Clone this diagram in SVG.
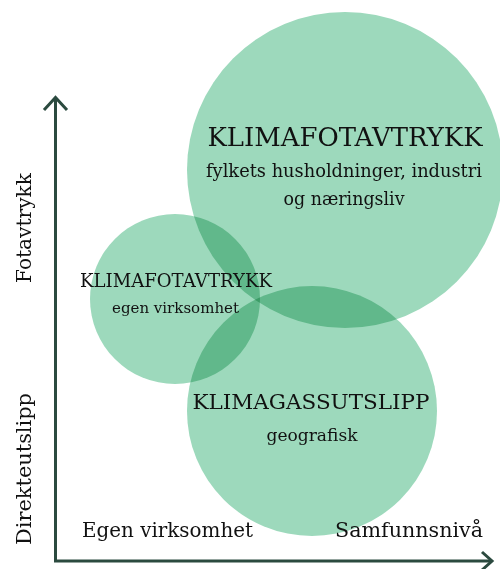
<svg xmlns="http://www.w3.org/2000/svg" width="500" height="569" viewBox="0 0 500 569">
<style>
.c{fill:#9dd9bc;mix-blend-mode:multiply}
.t{font-family:"DejaVu Serif","Liberation Serif",serif;fill:#111111;text-anchor:middle}
.ax{stroke:#2b4a3f;stroke-width:3;fill:none}
</style>
<rect width="500" height="569" fill="#ffffff"/>
<g id="node-fylke">
<circle class="c" cx="345" cy="170" r="158"/>
</g>
<g id="node-egen">
<circle class="c" cx="175" cy="299" r="85"/>
</g>
<g id="node-geo">
<circle class="c" cx="312" cy="411" r="125"/>
</g>
<g id="labels-fylke">
<text class="t" x="345" y="146" font-size="26" textLength="275" lengthAdjust="spacingAndGlyphs">KLIMAFOTAVTRYKK</text>
<text class="t" x="344" y="177" font-size="18" textLength="276" lengthAdjust="spacingAndGlyphs">fylkets husholdninger, industri</text>
<text class="t" x="344" y="205" font-size="18" textLength="121" lengthAdjust="spacingAndGlyphs">og næringsliv</text>
</g>
<g id="labels-egen">
<text class="t" x="176" y="287" font-size="19" textLength="192" lengthAdjust="spacingAndGlyphs">KLIMAFOTAVTRYKK</text>
<text class="t" x="175.5" y="313" font-size="15" textLength="127" lengthAdjust="spacingAndGlyphs">egen virksomhet</text>
</g>
<g id="labels-geo">
<text class="t" x="311" y="409" font-size="21" textLength="237" lengthAdjust="spacingAndGlyphs">KLIMAGASSUTSLIPP</text>
<text class="t" x="312" y="441" font-size="17" textLength="91" lengthAdjust="spacingAndGlyphs">geografisk</text>
</g>
<g id="connectors">
<path class="ax" d="M55.5 561 V98"/>
<path class="ax" d="M44 110 L55.5 97.5 L67 110"/>
<path class="ax" d="M54 561 H492"/>
<path class="ax" d="M482 552 L492 561 L482 570"/>
</g>
<g id="axis-labels">
<text class="t" x="167.5" y="537" font-size="20" textLength="171" lengthAdjust="spacingAndGlyphs">Egen virksomhet</text>
<text class="t" x="409" y="537" font-size="20" textLength="148" lengthAdjust="spacingAndGlyphs">Samfunnsnivå</text>
<text class="t" transform="translate(31 228) rotate(-90)" font-size="20" textLength="110" lengthAdjust="spacingAndGlyphs">Fotavtrykk</text>
<text class="t" transform="translate(31 469) rotate(-90)" font-size="20" textLength="152" lengthAdjust="spacingAndGlyphs">Direkteutslipp</text>
</g>
</svg>
